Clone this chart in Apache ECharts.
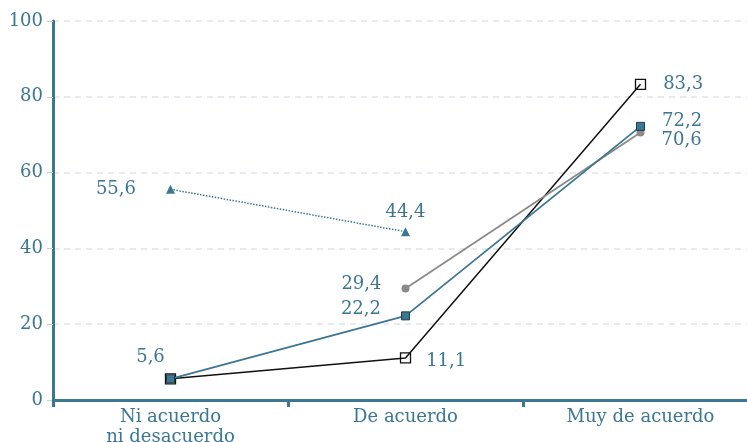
<!DOCTYPE html>
<html><head><meta charset="utf-8">
<script src="https://cdn.jsdelivr.net/npm/echarts@6/dist/echarts.min.js"></script>
<style>html,body{margin:0;padding:0;background:#fff}#c{width:747px;height:442px}</style>
</head><body><div id="c"></div>
<script>
const categories = ['Ni acuerdo\nni desacuerdo', 'De acuerdo', 'Muy de acuerdo'];
const seriesDotted = [55.6, 44.4, null];
const seriesGray = [null, 29.4, 70.6];
const seriesTeal = [5.6, 22.2, 72.2];
const seriesBlack = [5.6, 11.1, 83.3];
const yTicks = [0, 20, 40, 60, 80, 100];

const TEAL = '#3b7692';
const FONT = 'DejaVu Serif';
const FS = 18;
const fmt = v => String(v).replace('.', ',');

function withLabels(values, labelCfg) {
  return values.map((v, i) => {
    if (v === null) return '-';
    const cfg = labelCfg[i];
    return cfg ? { value: v, label: Object.assign({ show: true }, cfg) } : { value: v, label: { show: false } };
  });
}
const baseLabel = { color: TEAL, fontFamily: FONT, fontSize: FS, formatter: p => fmt(p.value) };

const chart = echarts.init(document.getElementById('c'), null, { renderer: 'canvas' });
chart.setOption({
  animation: false,
  grid: { left: 53, width: 705, top: 21, bottom: 42, containLabel: false, outerBoundsMode: 'none' },
  xAxis: {
    type: 'category', data: categories, boundaryGap: true,
    axisLine: { lineStyle: { color: TEAL, width: 3 } },
    axisTick: { show: true, length: 7, lineStyle: { color: TEAL, width: 3 } },
    axisLabel: { color: TEAL, fontFamily: FONT, fontSize: FS, margin: 7, lineHeight: 20, interval: 0 }
  },
  yAxis: {
    type: 'value', min: yTicks[0], max: yTicks[yTicks.length - 1], interval: 20,
    axisLine: { show: true, lineStyle: { color: TEAL, width: 3 } },
    axisTick: { show: true, length: 6, lineStyle: { color: '#c5d0da', width: 1 } },
    axisLabel: { color: TEAL, fontFamily: FONT, fontSize: FS, margin: 10 },
    splitLine: { show: true, lineStyle: { color: '#dfe4ea', type: [6, 5], width: 1.5 } }
  },
  series: [
    {
      type: 'line', data: withLabels(seriesDotted, [
        { position: 'left', distance: 30 },
        { position: 'top', distance: 6 },
        null]),
      symbol: 'triangle', symbolSize: 9,
      itemStyle: { color: TEAL },
      lineStyle: { color: TEAL, width: 1.5, type: 'dotted' },
      label: baseLabel, connectNulls: false
    },
    {
      type: 'line', data: withLabels(seriesGray, [
        null,
        { position: 'left', distance: 20, offset: [0, -4] },
        { position: 'right', distance: 17, offset: [0, 8] }]),
      symbol: 'circle', symbolSize: 8,
      itemStyle: { color: '#8a8a8a' },
      lineStyle: { color: '#8a8a8a', width: 1.8 },
      label: baseLabel
    },
    {
      type: 'line', data: withLabels(seriesTeal, [
        { position: 'top', distance: 8, offset: [-20, 0] },
        { position: 'left', distance: 20, offset: [0, -7] },
        { position: 'right', distance: 17, offset: [0, -5] }]),
      symbol: 'rect', symbolSize: 8,
      itemStyle: { color: TEAL, borderColor: '#1d3c4c', borderWidth: 1 },
      lineStyle: { color: TEAL, width: 1.8 },
      label: baseLabel
    },
    {
      type: 'line', data: withLabels(seriesBlack, [
        null,
        { position: 'right', distance: 15, offset: [0, 3] },
        { position: 'right', distance: 17 }]),
      symbol: 'rect', symbolSize: 10,
      itemStyle: { color: 'rgba(255,255,255,0)', borderColor: '#111', borderWidth: 1.3 },
      lineStyle: { color: '#111', width: 1.5 },
      label: baseLabel, z: 1
    }
  ]
});
</script></body></html>
